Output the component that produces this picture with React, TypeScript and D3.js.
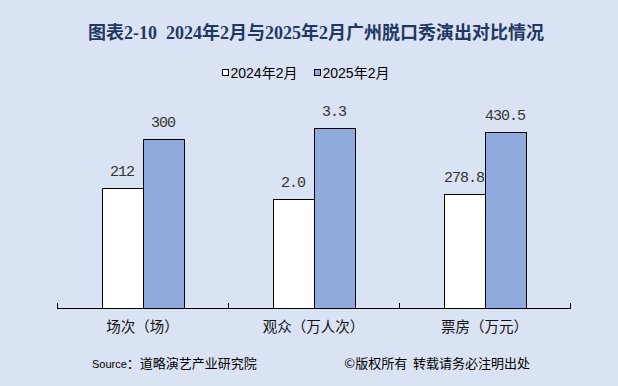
import React from 'react';
import * as d3 from 'd3';

const title = '图表2-10  2024年2月与2025年2月广州脱口秀演出对比情况';
const categories = ['场次（场）', '观众（万人次）', '票房（万元）'];
const seriesNames = ['2024年2月', '2025年2月'];
const values2024 = [212, 2.0, 278.8];
const values2025 = [300, 3.3, 430.5];
const labelDecimals = [0, 1, 1];
// every category has its own value axis (units differ), hidden in the original
const groupAxisMax = [354, 3.67, 490];

const W = 618;
const H = 386;
const BG = '#dae3f3';
const BLUE = '#8faadc';
const TITLE_COLOR = '#1f3864';
const CJK = '"Noto Sans CJK SC", "Noto Sans", sans-serif';

export default function App() {
  const plot = { left: 57, right: 570, top: 108, bottom: 308 };
  const fills = ['#ffffff', BLUE];
  const seriesValues = [values2024, values2025];

  const x0 = d3.scaleBand<string>().domain(categories).range([plot.left, plot.right]).padding(0);
  const barGroupWidth = 82;
  const x1 = d3.scaleBand<string>().domain(seriesNames).range([0, barGroupWidth]).padding(0);
  const yScales = groupAxisMax.map((max) =>
    d3.scaleLinear().domain([0, max]).range([plot.bottom, plot.top])
  );

  const ticks = [...categories.map((c) => x0(c) as number), plot.right];

  return (
    <div style={{ width: W, height: H }}>
      <style>{'body{margin:0}'}</style>
      <svg width={W} height={H} style={{ display: 'block', background: BG }}>
        <text
          x={316}
          y={39}
          textAnchor="middle"
          fill={TITLE_COLOR}
          fontFamily={`"Liberation Serif", ${CJK}`}
          fontWeight="bold"
          fontSize={18}
          style={{ whiteSpace: 'pre' }}
        >
          {title}
        </text>

        {/* legend */}
        <g fontFamily={`"Liberation Sans", ${CJK}`} fontSize={14} fill="#000">
          {seriesNames.map((name, i) => {
            const lx = i === 0 ? 222.5 : 314.5;
            return (
              <g key={name}>
                <rect x={lx} y={69.5} width={6} height={6} fill={fills[i]} stroke="#000" strokeWidth={1} />
                <text x={lx + 8} y={78}>{name}</text>
              </g>
            );
          })}
        </g>

        {/* bars */}
        {categories.map((cat, ci) => {
          const cx = (x0(cat) as number) + x0.bandwidth() / 2;
          const gx = cx - barGroupWidth / 2;
          const y = yScales[ci];
          return (
            <g key={cat}>
              {seriesNames.map((s, si) => {
                const v = seriesValues[si][ci];
                const bx = gx + (x1(s) as number);
                const top = y(v);
                return (
                  <g key={s}>
                    <rect
                      x={Math.round(bx) + 0.5}
                      y={Math.round(top) + 0.5}
                      width={Math.round(x1.bandwidth())}
                      height={plot.bottom - Math.round(top)}
                      fill={fills[si]}
                      stroke="#000"
                      strokeWidth={1}
                    />
                    <text
                      x={bx + x1.bandwidth() / 2}
                      y={top - 12}
                      textAnchor="middle"
                      fontFamily='"Liberation Mono", monospace'
                      fontSize={15}
                      letterSpacing={-1}
                      fill="#333"
                    >
                      {v.toFixed(labelDecimals[ci])}
                    </text>
                  </g>
                );
              })}
              <text
                x={cx}
                y={332}
                textAnchor="middle"
                fontFamily={CJK}
                fontSize={14.5}
                fill="#111"
              >
                {cat}
              </text>
            </g>
          );
        })}

        {/* category axis */}
        <line x1={plot.left} x2={plot.right + 1} y1={plot.bottom + 0.5} y2={plot.bottom + 0.5} stroke="#000" strokeWidth={1} />
        {ticks.map((t, i) => (
          <line
            key={i}
            x1={Math.round(t) + 0.5}
            x2={Math.round(t) + 0.5}
            y1={plot.bottom - 5}
            y2={plot.bottom}
            stroke="#000"
            strokeWidth={1}
          />
        ))}

        {/* footer */}
        <text x={92} y={368} fontFamily={CJK} fontSize={13} fill="#000">
          <tspan fontFamily='"Liberation Sans", sans-serif' fontSize={11}>Source</tspan>
          <tspan>：道略演艺产业研究院</tspan>
        </text>
        <text x={530} y={368} textAnchor="end" fontFamily={CJK} fontSize={13} fill="#000" style={{ whiteSpace: 'pre' }}>
          ©版权所有  转载请务必注明出处
        </text>
      </svg>
    </div>
  );
}
